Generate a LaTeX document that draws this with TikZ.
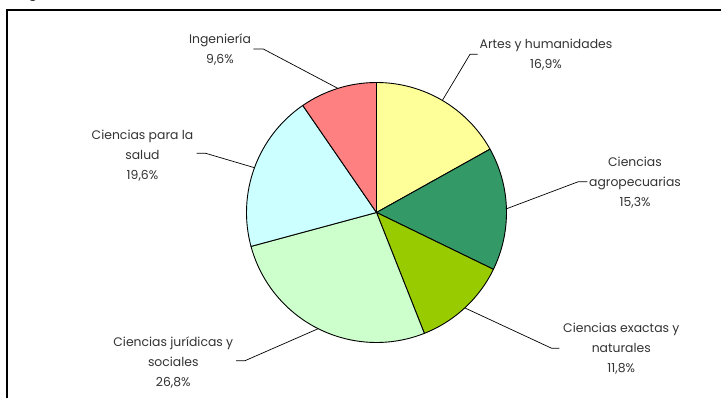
\documentclass[tikz,border=0pt]{standalone}
\usepackage{fontspec}
\setmainfont{Poppins}
\definecolor{cArtes}{HTML}{FFFF99}
\definecolor{cAgro}{HTML}{339966}
\definecolor{cExac}{HTML}{99CC00}
\definecolor{cJur}{HTML}{CCFFCC}
\definecolor{cSal}{HTML}{CCFFFF}
\definecolor{cIng}{HTML}{FF8080}
\definecolor{txt}{HTML}{333333}
\begin{document}
\begin{tikzpicture}[x=1pt,y=-1pt,
  slice/.style={draw=black,line width=0.9pt,line join=round},
  leader/.style={draw=black,line width=0.7pt},
  lbl/.style={align=center,font=\fontsize{12.4}{20}\selectfont,text=txt,inner sep=0pt}]
\useasboundingbox (0,0) rectangle (721,398);
\clip (0,0) rectangle (721,398);
\fill[white] (0,0) rectangle (721,398);
\node[font=\bfseries\fontsize{14}{16}\selectfont,anchor=base,inner sep=0pt] (title) at (33,-2) {g};
\draw[line width=1.5pt] (7,420) -- (7,10) -- (740,10);
\coordinate (O) at (376.5,212.5);
\def\R{130}
\filldraw[slice,fill=cArtes] (O) -- ++(-90:\R) arc[start angle=-90,end angle=-29.16,radius=\R] -- cycle;
\filldraw[slice,fill=cAgro] (O) -- ++(-29.16:\R) arc[start angle=-29.16,end angle=25.92,radius=\R] -- cycle;
\filldraw[slice,fill=cExac] (O) -- ++(25.92:\R) arc[start angle=25.92,end angle=68.4,radius=\R] -- cycle;
\filldraw[slice,fill=cJur] (O) -- ++(68.4:\R) arc[start angle=68.4,end angle=164.88,radius=\R] -- cycle;
\filldraw[slice,fill=cSal] (O) -- ++(164.88:\R) arc[start angle=164.88,end angle=235.44,radius=\R] -- cycle;
\filldraw[slice,fill=cIng] (O) -- ++(235.44:\R) arc[start angle=235.44,end angle=270,radius=\R] -- cycle;
% rim points
\coordinate (rIng) at (337.9,88.4);
\coordinate (rArt) at (442.4,100.4);
\coordinate (rSal) at (254.5,167.7);
\coordinate (rAgr) at (506.4,208.8);
\coordinate (rExa) at (465,308);
\coordinate (rJur) at (318.2,328.7);
% labels
\node[lbl] (lIng) at (220,49.5) {Ingeniería\\9,6\%};
\node[lbl] (lArt) at (546,55) {Artes y humanidades\\16,9\%};
\node[lbl] (lSal) at (142.5,155.5) {Ciencias para la\\salud\\19,6\%};
\node[lbl] (lAgr) at (635,182.5) {Ciencias\\agropecuarias\\15,3\%};
\node[lbl] (lExa) at (621.3,349) {Ciencias exactas y\\naturales\\11,8\%};
\node[lbl] (lJur) at (173.3,362.5) {Ciencias jurídicas y\\sociales\\26,8\%};
% leaders
\draw[leader] (rIng) -- (263.3,49) -- (253.3,49);
\draw[leader] (rArt) -- (470,54.3) -- (477.7,54.3);
\draw[leader] (rSal) -- (205.7,153.3) -- (196.7,153.3);
\draw[leader] (rAgr) -- (578.3,181.7) -- (587.3,181.7);
\draw[leader] (rExa) -- (551.7,348.3) -- (559.3,348.3);
\draw[leader] (rJur) -- (245,360.7) -- (236,360.7);
\end{tikzpicture}
\end{document}
